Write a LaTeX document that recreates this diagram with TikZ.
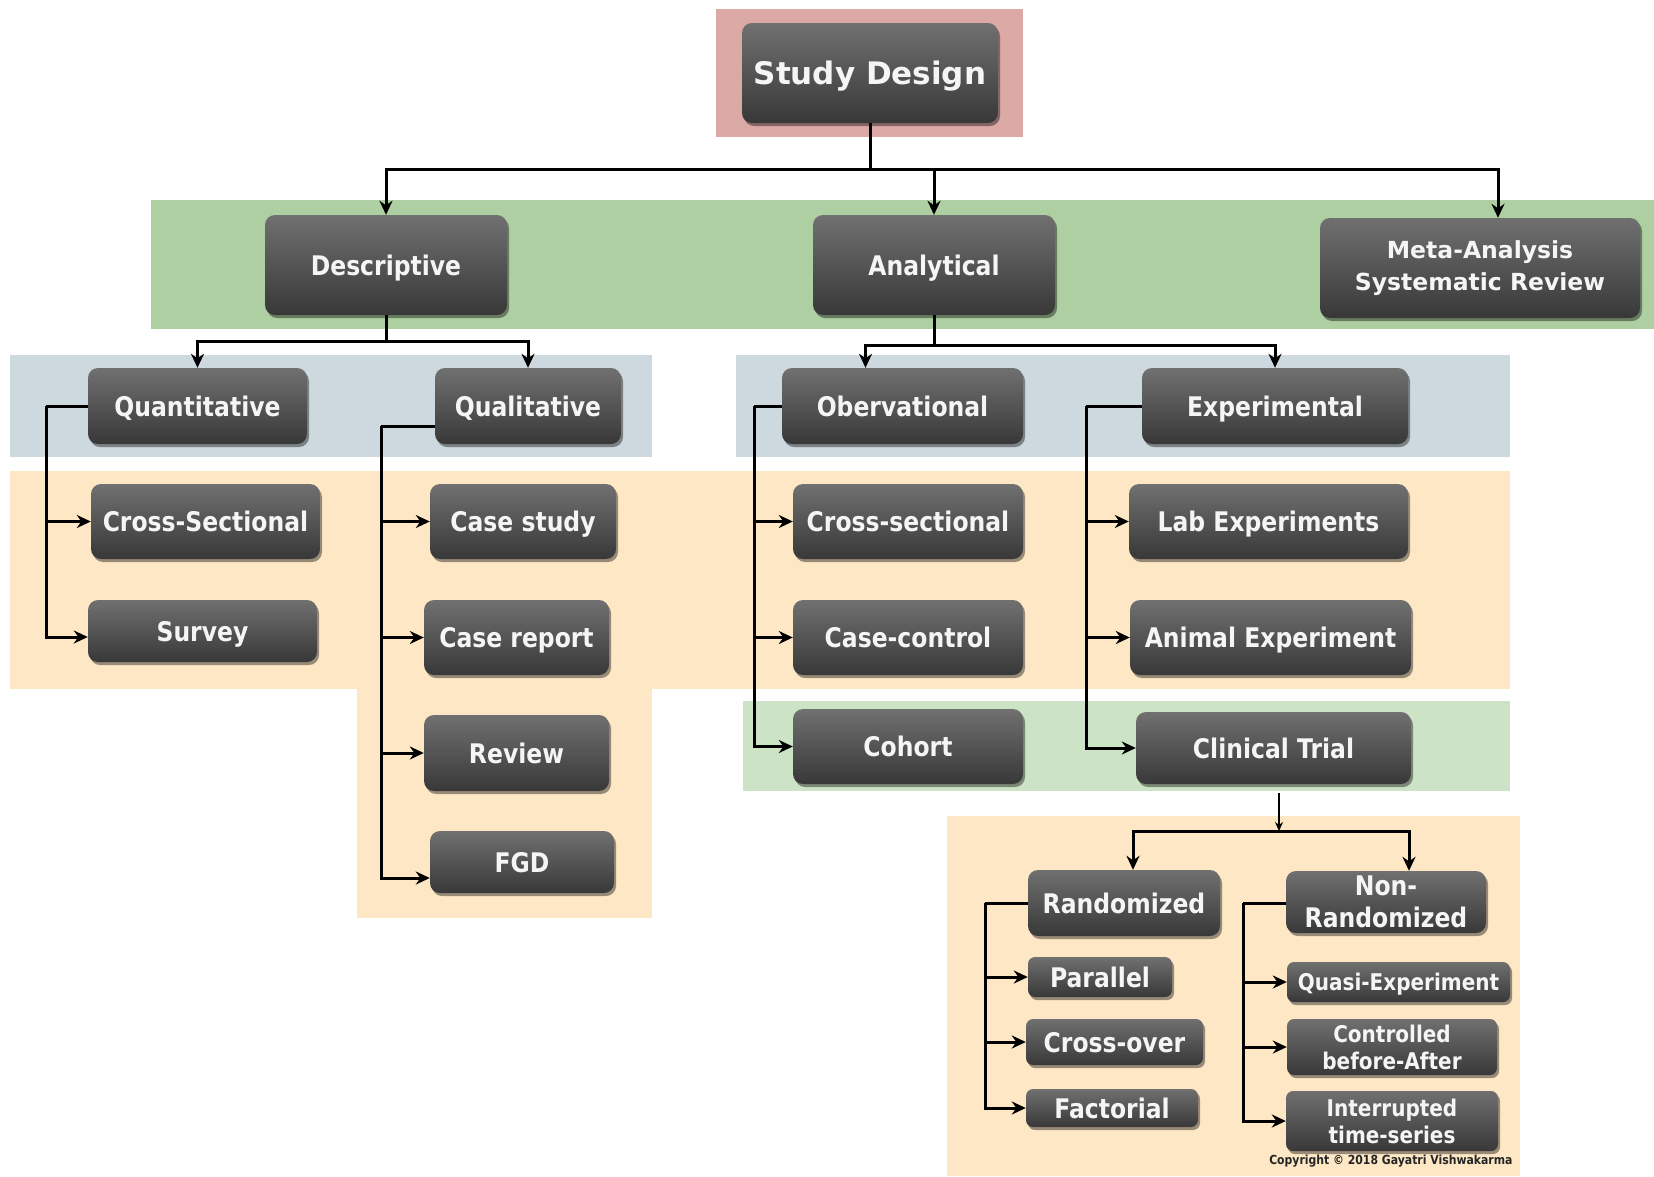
\documentclass[tikz,border=0pt]{standalone}
\usepackage{fontspec}
\setmainfont{DejaVu Sans}
\newfontfamily\condfont{DejaVu Sans}[FakeStretch=0.87]
\usetikzlibrary{arrows.meta,shadows}
\definecolor{pinkbg}{RGB}{219,170,165}
\definecolor{greenbg}{RGB}{174,207,161}
\definecolor{greenlt}{RGB}{205,227,198}
\definecolor{bluebg}{RGB}{205,217,222}
\definecolor{orangebg}{RGB}{253,231,197}
\definecolor{boxtop}{RGB}{112,112,112}
\definecolor{boxbot}{RGB}{56,56,56}
\definecolor{boxtext}{RGB}{245,245,245}
\tikzset{
  box/.style={rounded corners=10pt, top color=boxtop, bottom color=boxbot,
    text=boxtext, font=\condfont\bfseries\fontsize{27}{32}\selectfont, align=center,
    inner sep=0pt, drop shadow={shadow xshift=2pt,shadow yshift=-3pt,opacity=0.4,fill=black}},
  one/.style={text height=20pt, text depth=0pt},
  sbox/.style={box, font=\condfont\bfseries\fontsize{23}{27}\selectfont, rounded corners=7pt},
  sz/.style 2 args={minimum width=#1pt, minimum height=#2pt},
  conn/.style={line width=3pt, -{Stealth[length=14pt,width=13pt]}},
  trunk/.style={line width=3pt},
}
\begin{document}
\begin{tikzpicture}[x=1pt,y=-1pt]
\useasboundingbox (0,0) rectangle (1654,1176);
% backgrounds
\fill[pinkbg] (716,9) rectangle (1023,137);
\fill[greenbg] (151,200) rectangle (1654,329);
\fill[bluebg] (10,355) rectangle (652,457);
\fill[bluebg] (736,355) rectangle (1510,457);
\fill[orangebg] (10,471) rectangle (1510,689);
\fill[orangebg] (357,689) rectangle (652,918);
\fill[greenlt] (743,701) rectangle (1510,791);
\fill[orangebg] (947,816) rectangle (1520,1176);
% nodes
\node[box, sz={256}{100}, font=\bfseries\fontsize{31}{36}\selectfont, text height=23pt, text depth=0pt] (sd) at (870,73) {Study Design};
\node[box, one, sz={242}{100}] (desc) at (386,265) {Descriptive};
\node[box, one, sz={242}{100}] (anal) at (934,265) {Analytical};
\node[box, sz={320}{100}, font=\bfseries\fontsize{23.5}{32}\selectfont] (meta) at (1480,268) {Meta-Analysis\\Systematic Review};
\node[box, one, sz={219}{76}] (quant) at (197.5,406) {Quantitative};
\node[box, one, sz={186}{76}] (qual) at (528,406) {Qualitative};
\node[box, one, sz={229}{75}] (cs1) at (205.5,521.5) {Cross-Sectional};
\node[box, one, sz={229}{62}] (survey) at (202.5,631) {Survey};
\node[box, one, sz={186}{75}] (cstudy) at (523,521.5) {Case study};
\node[box, one, sz={185}{75}] (creport) at (516.5,637.5) {Case report};
\node[box, one, sz={185}{76}] (review) at (516.5,753) {Review};
\node[box, one, sz={184}{62}] (fgd) at (522,862) {FGD};
\node[box, one, sz={241}{76}] (obs) at (902.5,406) {Obervational};
\node[box, one, sz={266}{76}] (exp) at (1275,406) {Experimental};
\node[box, one, sz={230}{75}] (cs2) at (908,521.5) {Cross-sectional};
\node[box, one, sz={230}{75}] (cc) at (908,637.5) {Case-control};
\node[box, one, sz={230}{75}] (coh) at (908,746.5) {Cohort};
\node[box, one, sz={279}{75}] (lab) at (1268.5,521.5) {Lab Experiments};
\node[box, one, sz={281}{75}] (animal) at (1270.5,637.5) {Animal Experiment};
\node[box, one, sz={275}{72}] (clin) at (1273.5,748) {Clinical Trial};
\node[box, one, sz={192}{66}] (rand) at (1124,903) {Randomized};
\node[box, sz={200}{62}, font=\condfont\bfseries\fontsize{27}{32}\selectfont] (nrand) at (1386,902) {Non-\\Randomized};
\node[box, one, sz={144}{40}, rounded corners=7pt] (par) at (1100,977) {Parallel};
\node[box, one, sz={177}{46}, rounded corners=7pt] (cov) at (1114.5,1042) {Cross-over};
\node[box, one, sz={172}{38}, rounded corners=7pt] (fac) at (1112,1108) {Factorial};
\node[sbox, sz={223}{40}, text height=17pt, text depth=0pt] (quasi) at (1398.5,982) {Quasi-Experiment};
\node[sbox, sz={210}{56}] (cba) at (1392,1047) {Controlled\\before-After};
\node[sbox, sz={212}{60}] (its) at (1392,1121) {Interrupted\\time-series};
\node[font=\condfont\bfseries\fontsize{12.5}{14}\selectfont, text=black!85, anchor=east] (copy) at (1516,1161) {Copyright © 2018 Gayatri Vishwakarma};
% connectors
\coordinate (t1) at (870,169);
\draw[trunk] (sd.south) -- (t1);
\draw[conn] (t1) -| (desc.north);
\draw[conn] (t1) -| (anal.north);
\draw[conn] (t1) -| ([xshift=18pt]meta.north);
\coordinate (t2) at (386,341);
\draw[trunk] (desc.south) -- (t2);
\draw[conn] (t2) -| (quant.north);
\draw[conn] (t2) -| (qual.north);
\coordinate (q1) at (46,406);
\draw[trunk] (quant.west) -- (q1);
\draw[conn] (q1) |- (cs1.west);
\draw[conn] (q1) |- ([yshift=-6pt]survey.west);
\coordinate (q2) at (381,426);
\draw[trunk] (qual.west |- q2) -- (q2);
\draw[conn] (q2) |- (cstudy.west);
\draw[conn] (q2) |- (creport.west);
\draw[conn] (q2) |- (review.west);
\draw[conn] (q2) |- ([yshift=-16pt]fgd.west);
\coordinate (t3) at (934,345);
\draw[trunk] (anal.south) -- (t3);
\draw[conn] (t3) -| ([xshift=-37pt]obs.north);
\draw[conn] (t3) -| (exp.north);
\coordinate (o1) at (754,406);
\draw[trunk] (obs.west) -- (o1);
\draw[conn] (o1) |- (cs2.west);
\draw[conn] (o1) |- (cc.west);
\draw[conn] (o1) |- (coh.west);
\coordinate (e1) at (1086,406);
\draw[trunk] (exp.west) -- (e1);
\draw[conn] (e1) |- (lab.west);
\draw[conn] (e1) |- (animal.west);
\draw[conn] (e1) |- (clin.west);
\coordinate (t4) at (1279,831);
\draw[line width=1.2pt, -{Stealth[length=9pt,width=8pt]}, shorten <=9pt] (clin.south -| t4) -- (t4);
\draw[conn] (t4) -| ([xshift=9pt]rand.north);
\draw[conn] (t4) -| ([xshift=23pt]nrand.north);
\coordinate (r1) at (985,903);
\draw[trunk] (rand.west) -- (r1);
\draw[conn] (r1) |- (par.west);
\draw[conn] (r1) |- (cov.west);
\draw[conn] (r1) |- (fac.west);
\coordinate (n1) at (1243,903);
\draw[trunk] (nrand.west |- n1) -- (n1);
\draw[conn] (n1) |- (quasi.west);
\draw[conn] (n1) |- (cba.west);
\draw[conn] (n1) |- (its.west);
\end{tikzpicture}
\end{document}
